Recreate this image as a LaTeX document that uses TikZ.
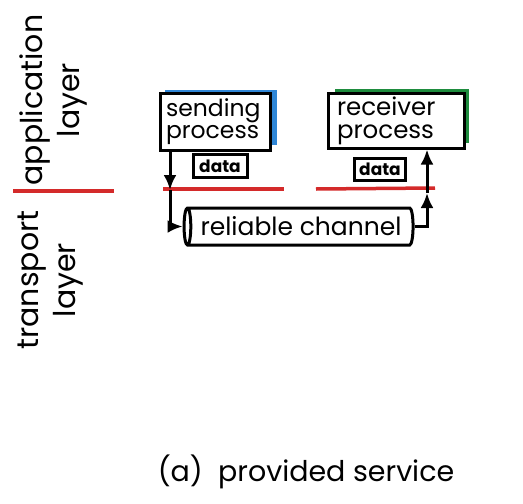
\documentclass[tikz,border=0pt]{standalone}
\usepackage{fontspec}
\setmainfont{Poppins}
\usetikzlibrary{shapes.geometric,arrows.meta}
\definecolor{redline}{HTML}{D42A2A}
\definecolor{blueshade}{HTML}{2F86D6}
\definecolor{greenshade}{HTML}{1E8C3E}
\begin{document}
\begin{tikzpicture}[x=1pt,y=-1pt,
  procbox/.style={draw,line width=3pt,fill=white,inner ysep=0pt,align=left},
  databox/.style={draw,line width=3pt,inner sep=0pt,font=\fontsize{17}{17}\bfseries\selectfont},
  layerlabel/.style={rotate=90,align=center,inner sep=0pt,font=\fontsize{30}{37}\selectfont},
  redrule/.style={redline,line width=3.5pt},
  arr/.style={line width=3pt,-{Latex[length=15pt,width=13pt]}}]
\useasboundingbox (0,0) rectangle (523,504);
% shadows
\fill[blueshade] (165,90) rectangle (277,145);
\fill[greenshade] (335,89) rectangle (469,143);
% process boxes
\node[procbox,inner xsep=6pt,text width=98pt,minimum height=57pt,
  font=\fontsize{23.5}{22}\selectfont] (send) at (215,121.5) {sending\\process};
\node[procbox,inner xsep=9pt,text width=118pt,minimum height=55pt,
  font=\fontsize{24.5}{23}\selectfont] (recv) at (396,120.5) {receiver\\process};
% data boxes
\node[databox,minimum width=54pt,minimum height=23pt] (d1) at (220,166) {data};
\node[databox,minimum width=51pt,minimum height=22pt] (d2) at (380,169) {data};
% red lines
\coordinate (r0a) at (13,191); \coordinate (r0b) at (114,191);
\coordinate (r1a) at (163,189); \coordinate (r1b) at (284,189);
\coordinate (r2a) at (316,189); \coordinate (r2b) at (435,188);
\draw[redrule] (r0a) -- (r0b);
\draw[redrule] (r1a) -- (r1b);
\draw[redrule] (r2a) -- (r2b);
% channel
\node[cylinder,shape border rotate=180,draw,line width=3pt,aspect=0.35,
  minimum height=229pt,minimum width=37pt,inner sep=0pt,
  font=\fontsize{25}{25}\selectfont] (chan) at (301,226.5) {reliable channel};
% layer labels
\node[layerlabel] (app) at (53,100) {application\\layer};
\node[layerlabel] (trn) at (51,280) {transport\\layer};
% arrows
\coordinate (sx) at (170,190);
\coordinate (rx) at (427,193);
\draw[arr] (send.south west -| sx) -- (sx);
\draw[arr] (sx) |- (chan.west);
\draw[arr] (chan.east) -| (rx);
\draw[arr] (rx) -- (recv.south -| rx);
% caption
\node[font=\fontsize{28.5}{28.5}\selectfont,inner sep=0pt] (cap) at (306,472) {(a)\ \ provided service};
\end{tikzpicture}
\end{document}
